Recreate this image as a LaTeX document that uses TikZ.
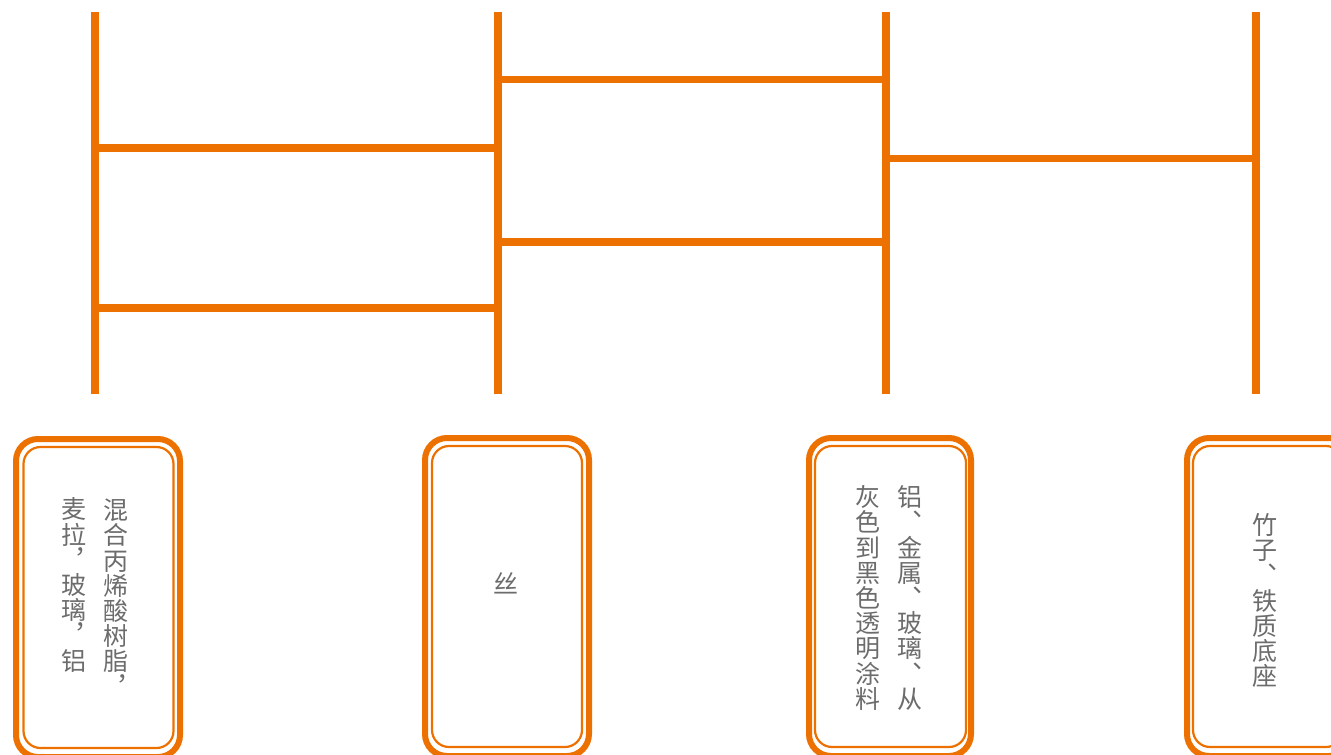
\documentclass[tikz,border=0pt]{standalone}
\usepackage{fontspec}
\newfontfamily\cjk{Noto Sans CJK SC}
\definecolor{orng}{RGB}{237,113,0}
\definecolor{txtgray}{RGB}{108,108,108}
\begin{document}
\begin{tikzpicture}[x=1pt,y=-1pt,
  rail/.style={draw=orng,line width=8pt},
  rung/.style={draw=orng,line width=7.5pt},
  outerbox/.style={draw=orng,line width=6pt,rounded corners=22pt,minimum width=164pt,minimum height=318pt,inner sep=0pt},
  innerbox/.style={draw=orng,line width=2.2pt,rounded corners=17pt,minimum width=150pt,minimum height=301pt,inner sep=0pt},
  vtext/.style={font=\cjk\fontsize{25}{25.2}\selectfont,text=txtgray,align=center,inner sep=0pt,text width=26pt}]
\useasboundingbox (0,0) rectangle (1331,755);
\clip (0,0) rectangle (1331,755);
% rails
\coordinate (t1) at (95,12);   \coordinate (b1) at (95,394);
\coordinate (t2) at (498,12);  \coordinate (b2) at (498,394);
\coordinate (t3) at (886,12);  \coordinate (b3) at (886,394);
\coordinate (t4) at (1256,12); \coordinate (b4) at (1256,394);
\draw[rung] (t1 |- 0,148) -- (t2 |- 0,148);
\draw[rung] (t1 |- 0,308) -- (t2 |- 0,308);
\draw[rung] (t2 |- 0,79.5) -- (t3 |- 0,79.5);
\draw[rung] (t2 |- 0,242) -- (t3 |- 0,242);
\draw[rung] (t3 |- 0,158.5) -- (t4 |- 0,158.5);
\draw[rail] (t1) -- (b1);
\draw[rail] (t2) -- (b2);
\draw[rail] (t3) -- (b3);
\draw[rail] (t4) -- (b4);
% boxes
\node[outerbox] (o1) at (98,598) {};
\node[innerbox] (i1) at (98.5,597.5) {};
\node[outerbox] (o2) at (507,597) {};
\node[innerbox] (i2) at (507,596.5) {};
\node[outerbox,minimum width=162pt] (o3) at (890,597) {};
\node[innerbox,minimum width=151pt] (i3) at (890.5,596.5) {};
\node[outerbox] (o4) at (1269,597) {};
\node[innerbox] (i4) at (1268,596.5) {};
% texts
\node[vtext] (x1r) at (116,597.5) {混\\合\\丙\\烯\\酸\\树\\脂\\︐};
\node[vtext] (x1l) at (74,585) {麦\\拉\\︐\\玻\\璃\\︐\\铝};
\node[vtext] (x2) at (506,583) {丝};
\node[vtext] (x3r) at (910,598) {铝\\︑\\金\\属\\︑\\玻\\璃\\︑\\从};
\node[vtext] (x3l) at (868,598) {灰\\色\\到\\黑\\色\\透\\明\\涂\\料};
\node[vtext] (x4) at (1265,600.5) {竹\\子\\︑\\铁\\质\\底\\座};
\end{tikzpicture}
\end{document}
